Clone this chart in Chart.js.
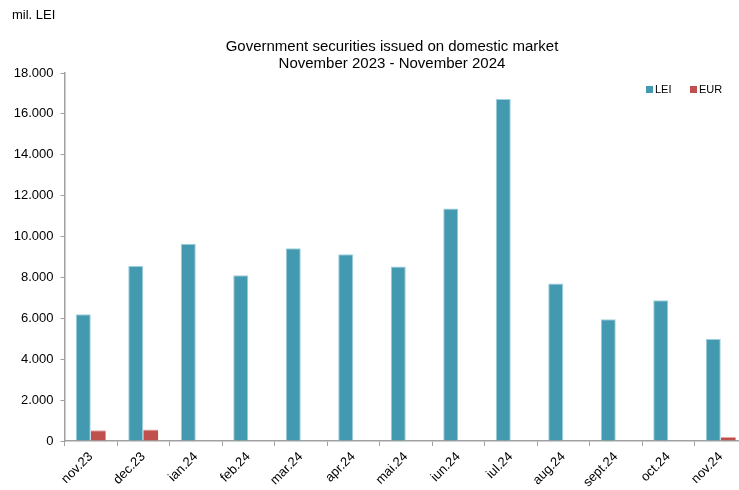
<!DOCTYPE html>
<html>
<head>
<meta charset="utf-8">
<script src="https://cdn.jsdelivr.net/npm/chart.js@4.4.1/dist/chart.umd.min.js"></script>
<style>
  html, body { margin: 0; padding: 0; background: #fff; overflow: hidden; }
  #wrap { position: relative; width: 739px; height: 490px; overflow: hidden; font-family: "Liberation Sans", Arial, sans-serif; color: #000; }
  #box { position: absolute; left: 0; top: 0; width: 784px; height: 490px; }
  .unit { position: absolute; left: 12px; top: 7px; font-size: 13px; }
  #title { position: absolute; left: 0; top: 37px; width: 784px; text-align: center; font-size: 15px; line-height: 17px; }
  #legend { position: absolute; left: 646px; top: 83px; font-size: 11px; white-space: nowrap; }
  #legend span.item { display: inline-block; }
  #legend i { display: inline-block; width: 7px; height: 7px; margin-right: 2px; vertical-align: 0; }
</style>
</head>
<body>
<div id="wrap">
  <div id="box"><canvas id="chart"></canvas></div>
  <div class="unit">mil. LEI</div>
  <div id="title"></div>
  <div id="legend"></div>
</div>
<script>
// Monthly issues, millions
const months = ['nov.23', 'dec.23', 'ian.24', 'feb.24', 'mar.24', 'apr.24', 'mai.24',
  'iun.24', 'iul.24', 'aug.24', 'sept.24', 'oct.24', 'nov.24'];
const leiValues = [6200, 8560, 9650, 8110, 9430, 9130, 8530, 11370, 16730, 7700, 5950, 6880, 4990];
const eurValues = [520, 560, 0, 0, 0, 0, 0, 0, 0, 0, 0, 0, 200];
const titleLines = ['Government securities issued on domestic market', 'November 2023 - November 2024'];

const AXIS = '#a0a0a0';
Chart.defaults.font.family = '"Liberation Sans", Arial, sans-serif';
Chart.defaults.color = '#000';

const chart = new Chart(document.getElementById('chart'), {
  type: 'bar',
  data: {
    labels: months,
    datasets: [
      {
        label: 'LEI',
        data: leiValues,
        backgroundColor: '#4299b0',
        borderColor: '#9fcfdc',
        borderWidth: { top: 1, left: 1, right: 1, bottom: 0 },
        borderSkipped: false,
      },
      {
        label: 'EUR',
        data: eurValues,
        backgroundColor: '#c0504d',
        borderColor: '#e3a3a1',
        borderWidth: { top: 1, left: 0, right: 0, bottom: 0 },
        borderSkipped: false,
      },
    ],
  },
  options: {
    responsive: true,
    maintainAspectRatio: false,
    animation: false,
    categoryPercentage: 0.572,
    barPercentage: 1,
    layout: { padding: { left: 0, right: 37, top: 73, bottom: 0 } },
    plugins: {
      legend: { display: false }, // html legend below
      tooltip: { enabled: false },
    },
    scales: {
      x: {
        grid: {
          offset: true,
          drawOnChartArea: false,
          drawTicks: true,
          tickLength: 5,
          color: AXIS,
        },
        border: { color: AXIS, width: 1.5 },
        ticks: {
          font: { size: 13 },
          minRotation: 45,
          maxRotation: 45,
          padding: 3,
          autoSkip: false,
        },
        afterFit: (scale) => { scale.height = 49; },
      },
      y: {
        min: 0,
        max: 18000,
        grid: {
          drawOnChartArea: false,
          drawTicks: true,
          tickLength: 4,
          color: AXIS,
        },
        border: { color: AXIS, width: 1.5 },
        ticks: {
          stepSize: 2000,
          font: { size: 13 },
          padding: 7,
          callback: (v) => v.toLocaleString('de-DE'),
        },
        afterFit: (scale) => { scale.width = 64.5; },
      },
    },
  },
});

document.getElementById('title').innerHTML = titleLines.join('<br>');

// legend entries come from the datasets
const legend = document.getElementById('legend');
chart.data.datasets.forEach((ds, i) => {
  const item = document.createElement('span');
  item.className = 'item';
  item.style.width = i === 0 ? '44px' : 'auto';
  item.innerHTML = `<i style="background:${ds.backgroundColor}"></i>${ds.label}`;
  legend.appendChild(item);
});
</script>
</body>
</html>
